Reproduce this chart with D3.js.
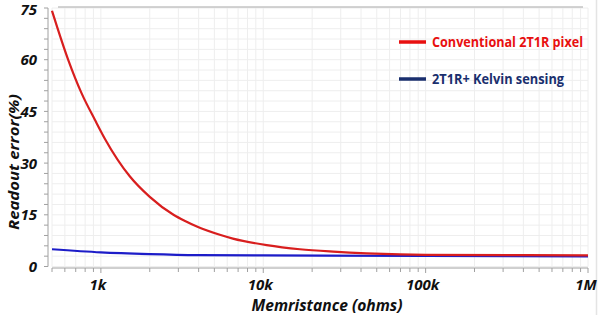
<!DOCTYPE html>
<html>
<head>
<meta charset="utf-8">
<script src="https://cdn.jsdelivr.net/npm/d3@7"></script>
<style>
  body { margin: 0; background: #fff; }
  text { font-family: "Open Sans", "Liberation Sans", sans-serif; }
</style>
</head>
<body>
<div id="chart"></div>
<script>
// readout error (%) vs memristance (ohms)
const conventionalR   = [500, 630, 760, 920, 1060, 1510, 2000, 2800, 3300, 3900, 5400, 6500, 10500, 16800, 26900, 43300, 69500, 100000, 1000000];
const conventionalErr = [74.2, 59.9, 50.3, 42.5, 37.0, 26.1, 20.2, 15.0, 13.2, 11.6, 9.2, 8.1, 6.2, 5.0, 4.3, 3.8, 3.5, 3.4, 3.25];

const kelvinR   = [500, 1000, 2000, 4000, 10000, 100000, 1000000];
const kelvinErr = [5.0, 4.1, 3.6, 3.3, 3.2, 3.05, 2.95];

const xTicks = [1000, 10000, 100000, 1000000];
const xTickLabels = ["1k", "10k", "100k", "1M"];
const yTicks = [0, 15, 30, 45, 60, 75];

const seriesNames = ["Conventional 2T1R pixel", "2T1R+ Kelvin sensing"];

const width = 598, height = 315;
const plotL = 52, plotR = 588, plotT = 8, plotB = 266.5;

const svg = d3.select("#chart").append("svg")
  .attr("width", width)
  .attr("height", height);

const x = d3.scaleLog().domain([500, 1000000]).range([plotL, plotR]);
const y = d3.scaleLinear().domain([0, 75]).range([plotB, plotT]);

// minor positions for grid + ticks
const xMinor = [];
for (let e = 2; e <= 5; e++) {
  for (let m = 1; m <= 9; m++) {
    const v = m * Math.pow(10, e);
    if (v >= 500 && v <= 1000000) xMinor.push(v);
  }
}
xMinor.push(1000000);
const yMinor = d3.range(0, 76, 3);

// faint grid
svg.append("g").selectAll("line")
  .data(yMinor)
  .join("line")
  .attr("x1", plotL).attr("x2", plotR)
  .attr("y1", d => y(d)).attr("y2", d => y(d))
  .attr("stroke", "#eeeeee");

svg.append("g").selectAll("line")
  .data(xMinor)
  .join("line")
  .attr("x1", d => x(d)).attr("x2", d => x(d))
  .attr("y1", plotT).attr("y2", plotB)
  .attr("stroke", "#eeeeee");

// top border and right edge
svg.append("line")
  .attr("x1", 58).attr("x2", 583)
  .attr("y1", 7).attr("y2", 7)
  .attr("stroke", "#a8a8a8").attr("stroke-width", 1.2);
svg.append("line")
  .attr("x1", 596.5).attr("x2", 596.5)
  .attr("y1", 0).attr("y2", height)
  .attr("stroke", "#e4e4e4").attr("stroke-width", 1.5);

// y axis
const yAxis = svg.append("g").attr("transform", `translate(48,0)`);
yAxis.append("line")
  .attr("x1", 0).attr("x2", 0)
  .attr("y1", plotT).attr("y2", plotB)
  .attr("stroke", "#a0a0a0");
yAxis.selectAll(".ymin")
  .data(yMinor)
  .join("line")
  .attr("x1", -4).attr("x2", 0)
  .attr("y1", d => y(d)).attr("y2", d => y(d))
  .attr("stroke", "#a0a0a0");
yAxis.selectAll(".ylab")
  .data(yTicks)
  .join("text")
  .attr("x", -11)
  .attr("y", d => y(d) + (d === 75 ? 2 : 0))
  .attr("dy", "0.36em")
  .attr("text-anchor", "end")
  .attr("font-size", 15)
  .attr("font-weight", "bold")
  .attr("font-style", "italic")
  .attr("fill", "#111")
  .text(d => d);

// x axis
const xAxis = svg.append("g").attr("transform", `translate(0,268)`);
xAxis.append("line")
  .attr("x1", plotL).attr("x2", plotR)
  .attr("y1", 0).attr("y2", 0)
  .attr("stroke", "#a0a0a0");
xAxis.selectAll(".xmin")
  .data(xMinor)
  .join("line")
  .attr("x1", d => x(d)).attr("x2", d => x(d))
  .attr("y1", 0).attr("y2", d => xTicks.includes(d) ? 5 : 4)
  .attr("stroke", "#a0a0a0");
xAxis.selectAll(".xlab")
  .data(xTicks)
  .join("text")
  .attr("x", (d, i) => x(d) - (i === 3 ? 2 : 3))
  .attr("y", 17)
  .attr("dy", "0.36em")
  .attr("text-anchor", "middle")
  .attr("font-size", 15)
  .attr("font-weight", "bold")
  .attr("font-style", "italic")
  .attr("fill", "#111")
  .text((d, i) => xTickLabels[i]);

// axis titles
svg.append("text")
  .attr("x", 327).attr("y", 305)
  .attr("dy", "0.36em")
  .attr("text-anchor", "middle")
  .attr("font-size", 16)
  .attr("font-weight", "bold")
  .attr("font-style", "italic")
  .attr("textLength", 151)
  .attr("lengthAdjust", "spacingAndGlyphs")
  .attr("fill", "#111")
  .text("Memristance (ohms)");

svg.append("text")
  .attr("transform", "translate(14,162) rotate(-90)")
  .attr("dy", "0.36em")
  .attr("text-anchor", "middle")
  .attr("font-size", 15)
  .attr("font-weight", "bold")
  .attr("font-style", "italic")
  .attr("textLength", 136)
  .attr("lengthAdjust", "spacingAndGlyphs")
  .attr("fill", "#111")
  .text("Readout error(%)");

// curves
const line = d3.line()
  .x(d => x(d[0]))
  .y(d => y(d[1]))
  .curve(d3.curveMonotoneX);

svg.append("path")
  .datum(d3.zip(kelvinR, kelvinErr))
  .attr("d", line)
  .attr("fill", "none")
  .attr("stroke", "#1c1cc8")
  .attr("stroke-width", 2.2);

svg.append("path")
  .datum(d3.zip(conventionalR, conventionalErr))
  .attr("d", line)
  .attr("fill", "none")
  .attr("stroke", "#d81e1e")
  .attr("stroke-width", 2.2);

// legend
const legendColors = ["#e81010", "#1a2f6e"];
const legendY = [42, 79];
const legendLen = [151, 132];
const legend = svg.append("g");
legend.selectAll("line")
  .data(seriesNames)
  .join("line")
  .attr("x1", 399).attr("x2", 426)
  .attr("y1", (d, i) => legendY[i]).attr("y2", (d, i) => legendY[i])
  .attr("stroke", (d, i) => legendColors[i])
  .attr("stroke-width", 3.5);
legend.selectAll("text")
  .data(seriesNames)
  .join("text")
  .attr("x", 432)
  .attr("y", (d, i) => legendY[i])
  .attr("dy", "0.36em")
  .attr("font-size", 13.5)
  .attr("font-weight", "bold")
  .attr("textLength", (d, i) => legendLen[i])
  .attr("lengthAdjust", "spacingAndGlyphs")
  .attr("fill", (d, i) => legendColors[i])
  .text(d => d);
</script>
</body>
</html>
